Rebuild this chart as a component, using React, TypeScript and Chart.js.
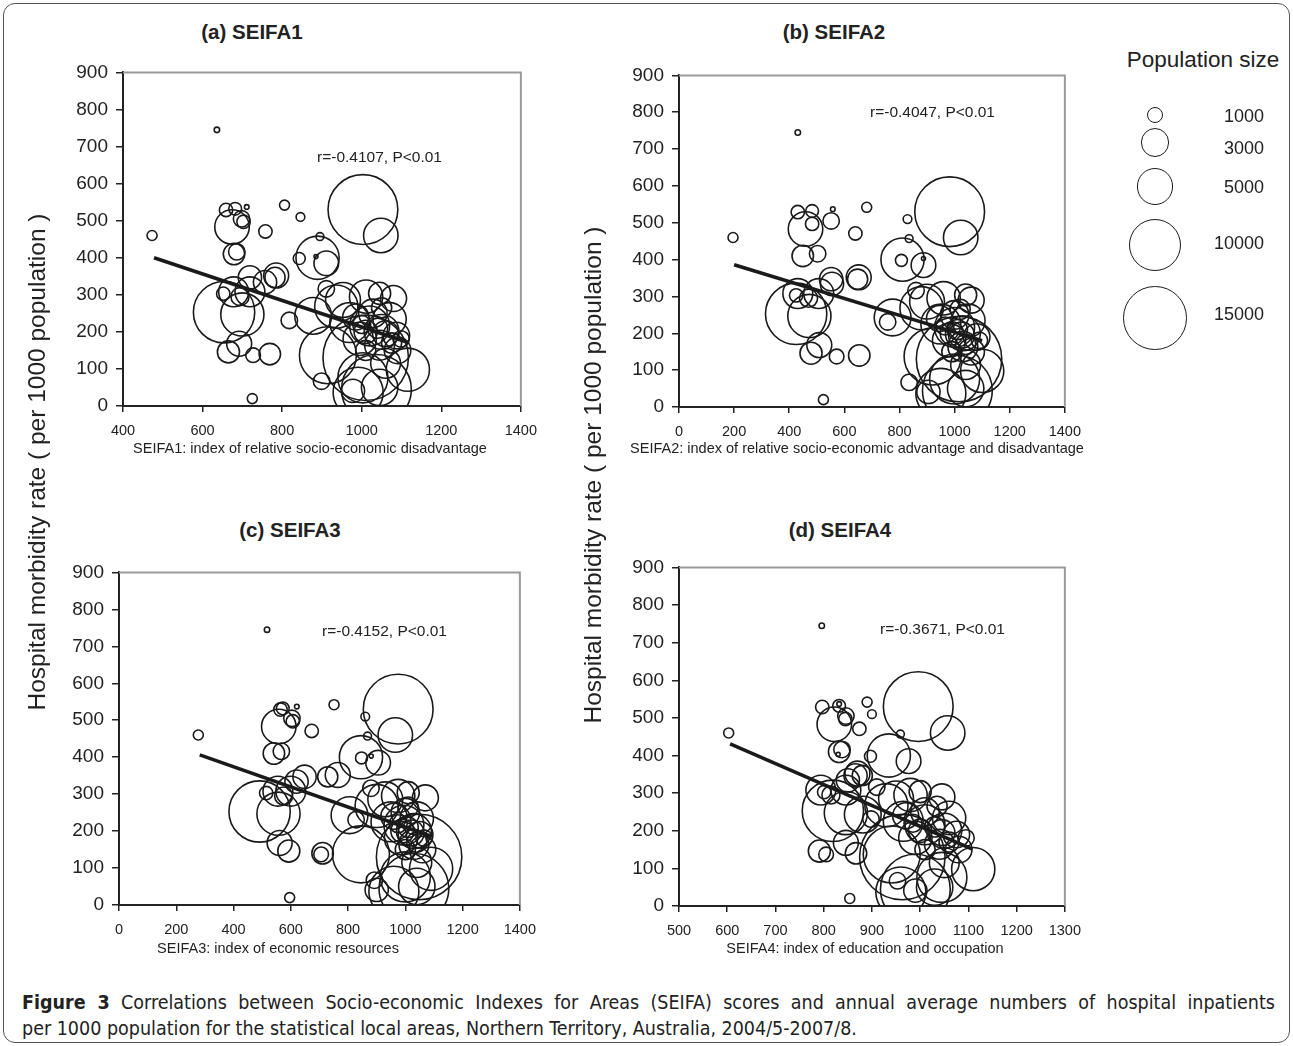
import React, { useEffect, useRef } from "react";
import { Chart, registerables } from "chart.js";

Chart.register(...registerables);

// ---------- data (one entry per statistical local area) ----------
const RATE = [745, 460, 20, 530, 460, 400, 457, 510, 542, 471, 398, 403, 385, 529, 532, 537, 483, 497, 505, 410, 416, 308, 303, 308, 347, 334, 347, 352, 295, 253, 247, 168, 146, 137, 140, 231, 243, 67, 130, 137, 98, 45, 37, 41, 50, 76, 286, 295, 304, 225, 216, 234, 190, 181, 181, 164, 268, 250, 200, 210, 195, 220, 170, 240, 150, 115, 265, 290, 150, 200, 316];
const POP = [110, 370, 370, 18000, 4400, 6900, 230, 280, 370, 660, 530, 60, 2250, 660, 600, 80, 4400, 660, 1000, 1700, 1000, 3300, 660, 3300, 2000, 2000, 1500, 2300, 1200, 13900, 6900, 2300, 1800, 800, 1700, 1000, 5000, 1000, 27000, 12000, 6900, 18000, 9250, 2000, 4900, 9250, 4500, 4100, 1800, 5900, 5900, 4100, 2600, 1000, 4100, 3300, 6900, 3000, 2000, 1500, 2500, 1200, 1500, 2500, 2600, 3300, 1500, 2500, 1500, 4500, 1000];
const SEIFA1 = [636, 473, 725, 1003, 1048, 889, 895, 846, 806, 758, 843, 885, 911, 659, 682, 711, 674, 703, 698, 679, 686, 678, 652, 719, 719, 757, 782, 785, 694, 654, 700, 692, 665, 727, 769, 818, 878, 899, 1010, 915, 1116, 1037, 991, 978, 1045, 1003, 953, 1011, 1045, 970, 1020, 1070, 1087, 1099, 995, 1045, 936, 1028, 1010, 1040, 1060, 1000, 1075, 985, 1090, 1060, 1050, 1080, 1010, 1050, 911];
const SEIFA2 = [431, 196, 524, 982, 1022, 811, 835, 829, 681, 640, 807, 887, 887, 431, 483, 558, 459, 483, 552, 449, 503, 431, 425, 507, 552, 555, 648, 652, 470, 425, 473, 509, 479, 572, 654, 757, 775, 835, 1016, 920, 1100, 1010, 950, 905, 1040, 1000, 900, 960, 1040, 950, 1000, 1050, 1080, 1090, 980, 1030, 880, 1000, 990, 1010, 1025, 965, 1040, 945, 1060, 1040, 1020, 1060, 990, 1030, 860];
const SEIFA3 = [517, 277, 596, 975, 965, 845, 868, 860, 751, 673, 847, 881, 905, 564, 572, 621, 558, 607, 604, 541, 567, 555, 514, 600, 648, 620, 729, 764, 575, 491, 557, 561, 593, 706, 711, 828, 805, 892, 1048, 845, 1090, 1030, 960, 900, 1040, 1000, 930, 975, 1010, 950, 995, 1040, 1050, 1065, 985, 1030, 900, 1000, 990, 1010, 1020, 975, 1040, 960, 1060, 1040, 1010, 1070, 1000, 1030, 880];
const SEIFA4 = [796, 603, 854, 996, 1057, 935, 959, 900, 890, 874, 897, 830, 976, 797, 832, 832, 822, 845, 846, 832, 838, 794, 801, 846, 866, 850, 880, 870, 815, 819, 846, 846, 791, 805, 867, 898, 881, 953, 963, 941, 1110, 990, 960, 990, 1030, 1045, 950, 980, 1000, 965, 1010, 1060, 1075, 1095, 990, 1040, 930, 1010, 1000, 1030, 1045, 985, 1060, 970, 1080, 1050, 1035, 1045, 1010, 1050, 910];

// fitted regression lines (end points)
const FIT1_X = [478, 1115];
const FIT1_Y = [400, 172];
const FIT2_X = [200, 1100];
const FIT2_Y = [386, 180];
const FIT3_X = [282, 1090];
const FIT3_Y = [406, 186];
const FIT4_X = [606, 1108];
const FIT4_Y = [431, 151];

const CORR = ["r=-0.4107, P<0.01", "r=-0.4047, P<0.01", "r=-0.4152, P<0.01", "r=-0.3671, P<0.01"];
const TITLES = ["(a) SEIFA1", "(b) SEIFA2", "(c) SEIFA3", "(d) SEIFA4"];
const X_TITLES = [
  "SEIFA1: index of relative socio-economic disadvantage",
  "SEIFA2: index of relative socio-economic advantage and disadvantage",
  "SEIFA3: index of economic resources",
  "SEIFA4: index of education and occupation",
];
const X_RANGES = [
  [400, 1400, 200],
  [0, 1400, 200],
  [0, 1400, 200],
  [500, 1300, 100],
];
const Y_RANGE = [0, 900, 100];
const Y_TITLE = "Hospital morbidity rate ( per 1000 population )";
const LEGEND_TITLE = "Population size";
const LEGEND_POP = [1000, 3000, 5000, 10000, 15000];
const CAPTION_BOLD = "Figure 3";
const CAPTION_LINE1 = "Correlations between Socio-economic Indexes for Areas (SEIFA) scores and annual average numbers of hospital inpatients";
const CAPTION_LINE2 = "per 1000 population for the statistical local areas, Northern Territory, Australia, 2004/5-2007/8.";

// ---------- layout / style ----------
const FONT = '"Liberation Sans", Arial, Helvetica, sans-serif';
const CAPTION_FONT = '"Liberation Sans Narrow", "DejaVu Sans Condensed", "Arial Narrow", sans-serif';
const INK = "#222";
const RADIUS_K = 0.26; // px per sqrt(person)
const bubbleRadius = (p: number) => RADIUS_K * Math.sqrt(p);

const AX_W = 60;
const AX_H = 46;
const PAD_T = 10;
const PAD_R = 25;

const PANELS = [
  { plot: { l: 122.7, t: 62.7, r: 521.7, b: 405.7 }, xs: SEIFA1, fx: FIT1_X, fy: FIT1_Y, title: { x: 252, y: 32 }, xt: { x: 310, y: 448 }, corr: { x: 317, y: 157 } },
  { plot: { l: 679.3, t: 65.7, r: 1066, b: 407 }, xs: SEIFA2, fx: FIT2_X, fy: FIT2_Y, title: { x: 834, y: 32 }, xt: { x: 857, y: 448 }, corr: { x: 870, y: 112 } },
  { plot: { l: 119, t: 563.3, r: 521, b: 905 }, xs: SEIFA3, fx: FIT3_X, fy: FIT3_Y, title: { x: 290, y: 530 }, xt: { x: 278, y: 948 }, corr: { x: 322, y: 631 } },
  { plot: { l: 679.3, t: 558.3, r: 1066, b: 906.7 }, xs: SEIFA4, fx: FIT4_X, fy: FIT4_Y, title: { x: 840, y: 530 }, xt: { x: 865, y: 948 }, corr: { x: 880, y: 629 } },
];

const LEGEND_LAYOUT = { cx: 1155, ys: [115, 142.7, 186.7, 244.7, 317.7], labelRight: 1264, labelYs: [116, 148, 187, 243, 314] };

const framePlugin = {
  id: "grayFrame",
  beforeDatasetsDraw(chart: any) {
    const { ctx, chartArea: a } = chart;
    ctx.save();
    ctx.strokeStyle = "#9a9a9a";
    ctx.lineWidth = 2;
    ctx.beginPath();
    ctx.moveTo(a.left, a.top);
    ctx.lineTo(a.right, a.top);
    ctx.lineTo(a.right, a.bottom);
    ctx.stroke();
    ctx.restore();
  },
};

function Panel({ idx }: { idx: number }) {
  const ref = useRef<HTMLCanvasElement>(null);
  const p = PANELS[idx];
  const w = Math.round(p.plot.r - p.plot.l + AX_W + PAD_R);
  const h = Math.round(p.plot.b - p.plot.t + PAD_T + AX_H);
  const left = p.plot.l - AX_W;
  const top = p.plot.t - PAD_T;

  useEffect(() => {
    if (!ref.current) return;
    const [xmin, xmax, xstep] = X_RANGES[idx];
    const bubbles = RATE.map((y, i) => ({ x: p.xs[i], y, r: bubbleRadius(POP[i]) }));
    const fit = p.fx.map((x, i) => ({ x, y: p.fy[i] }));
    const chart = new Chart(ref.current, {
      type: "bubble",
      data: {
        datasets: [
          {
            type: "line",
            data: fit,
            borderColor: "#1a1a1a",
            borderWidth: 3.5,
            pointRadius: 0,
            order: 0,
          } as any,
          {
            type: "bubble",
            data: bubbles,
            backgroundColor: "rgba(0,0,0,0)",
            borderColor: "#1a1a1a",
            borderWidth: 1.6,
            clip: 0,
            order: 1,
          } as any,
        ],
      },
      options: {
        responsive: false,
        animation: false,
        devicePixelRatio: 1,
        layout: { autoPadding: false, padding: { top: PAD_T, right: PAD_R, left: 0, bottom: 0 } },
        plugins: { legend: { display: false }, tooltip: { enabled: false } },
        events: [],
        scales: {
          x: {
            type: "linear",
            min: xmin,
            max: xmax,
            afterFit: (s: any) => { s.height = AX_H; },
            ticks: {
              stepSize: xstep,
              autoSkip: false,
              maxRotation: 0,
              color: INK,
              padding: 10,
              font: { family: FONT, size: 14.5 },
              callback: (v: any) => String(v),
            },
            grid: { drawOnChartArea: false, drawTicks: true, tickLength: 6, color: INK, lineWidth: 1.5 },
            border: { display: true, color: INK, width: 2 },
          },
          y: {
            type: "linear",
            min: Y_RANGE[0],
            max: Y_RANGE[1],
            afterFit: (s: any) => { s.width = AX_W; },
            ticks: {
              stepSize: Y_RANGE[2],
              color: INK,
              padding: 8,
              font: { family: FONT, size: 19 },
              callback: (v: any) => String(v),
            },
            grid: { drawOnChartArea: false, drawTicks: true, tickLength: 7, color: INK, lineWidth: 1.5 },
            border: { display: true, color: INK, width: 2 },
          },
        },
      } as any,
      plugins: [framePlugin],
    });
    return () => chart.destroy();
  }, []);

  return (
    <>
      <canvas ref={ref} width={w} height={h} style={{ position: "absolute", left, top, width: w, height: h }} />
      <div style={{ position: "absolute", left: p.title.x - 150, width: 300, top: p.title.y - 12, textAlign: "center", font: `bold 20.5px ${FONT}`, color: INK, lineHeight: "24px" }}>{TITLES[idx]}</div>
      <div style={{ position: "absolute", left: p.xt.x - 300, width: 600, top: p.xt.y - 9, textAlign: "center", font: `14.5px ${FONT}`, color: INK, lineHeight: "18px", whiteSpace: "nowrap" }}>{X_TITLES[idx]}</div>
      <div style={{ position: "absolute", left: p.corr.x, top: p.corr.y - 10, font: `15.5px ${FONT}`, color: INK, lineHeight: "20px", whiteSpace: "nowrap" }}>{CORR[idx]}</div>
    </>
  );
}

function YTitle({ cx, cy }: { cx: number; cy: number }) {
  return (
    <div style={{ position: "absolute", left: cx - 300, top: cy - 14, width: 600, height: 28, lineHeight: "28px", textAlign: "center", transform: "rotate(-90deg)", font: `24.5px ${FONT}`, color: INK, whiteSpace: "nowrap" }}>
      {Y_TITLE}
    </div>
  );
}

function Legend() {
  return (
    <>
      <div style={{ position: "absolute", left: 1100, width: 206, top: 48, textAlign: "center", font: `22.5px ${FONT}`, color: INK, lineHeight: "24px" }}>{LEGEND_TITLE}</div>
      {LEGEND_POP.map((pop, i) => {
        const r = bubbleRadius(pop);
        return (
          <React.Fragment key={pop}>
            <div style={{ position: "absolute", left: LEGEND_LAYOUT.cx - r, top: LEGEND_LAYOUT.ys[i] - r, width: 2 * r, height: 2 * r, boxSizing: "border-box", border: "1.6px solid #1a1a1a", borderRadius: "50%" }} />
            <div style={{ position: "absolute", left: LEGEND_LAYOUT.labelRight - 100, width: 100, top: LEGEND_LAYOUT.labelYs[i] - 11, textAlign: "right", font: `18px ${FONT}`, color: INK, lineHeight: "22px" }}>{pop}</div>
          </React.Fragment>
        );
      })}
    </>
  );
}

export default function App() {
  return (
    <div style={{ position: "absolute", left: 0, top: 0, width: 1293, height: 1046, overflow: "hidden", background: "#fff" }}>
      <div style={{ position: "absolute", left: 3, top: 3, width: 1287, height: 1040, boxSizing: "border-box", border: "1.5px solid #555", borderRadius: 12 }} />
      {PANELS.map((_, i) => <Panel key={i} idx={i} />)}
      <YTitle cx={37} cy={462} />
      <YTitle cx={593} cy={475} />
      <Legend />
      <div style={{ position: "absolute", left: 22, width: 1253, top: 990, font: `19.5px ${CAPTION_FONT}`, color: INK, lineHeight: "26px", textAlign: "justify", textAlignLast: "justify", whiteSpace: "nowrap" } as any}>
        <b>{CAPTION_BOLD}</b> {CAPTION_LINE1}
      </div>
      <div style={{ position: "absolute", left: 22, width: 1253, top: 1016, font: `19.5px ${CAPTION_FONT}`, color: INK, lineHeight: "26px", whiteSpace: "nowrap" }}>
        {CAPTION_LINE2}
      </div>
    </div>
  );
}
